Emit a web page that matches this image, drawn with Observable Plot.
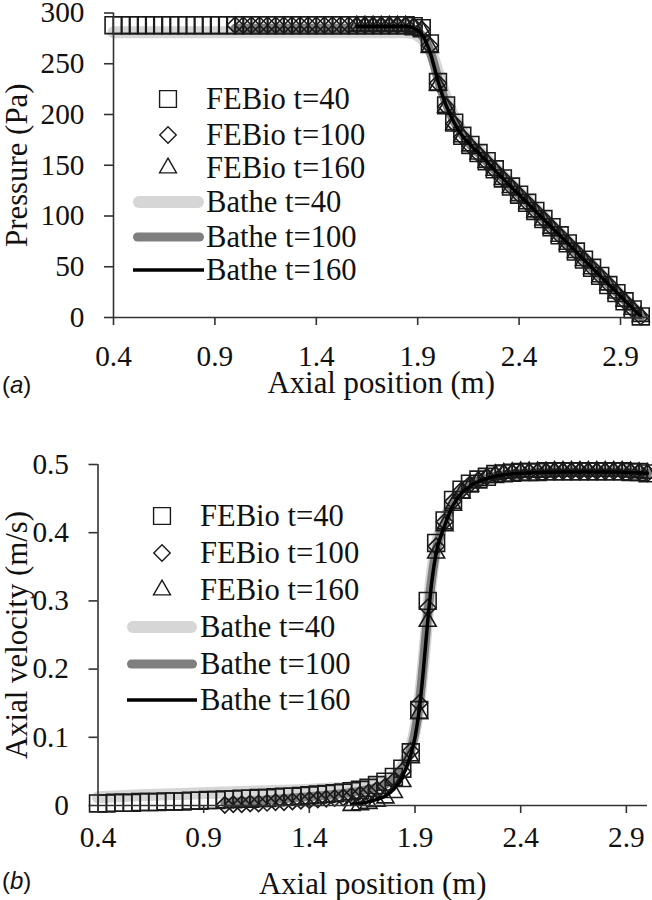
<!DOCTYPE html>
<html><head><meta charset="utf-8">
<script src="https://cdn.jsdelivr.net/npm/d3@7"></script>
<script src="https://cdn.jsdelivr.net/npm/@observablehq/plot@0.6"></script>
<style>
html,body{margin:0;padding:0;background:#fff;}
#wrap{position:relative;width:652px;height:900px;overflow:hidden;}
#wrap > svg{display:block;}
#overlay{position:absolute;left:0;top:0;pointer-events:none;}
#wrap svg text, #wrap svg tspan{font-family:"Liberation Serif","Times New Roman",serif;}
#wrap svg text.tag, #wrap svg text.tag tspan{font-family:"Liberation Sans",Arial,sans-serif;}
</style></head><body><div id="wrap"></div>
<script>
// ---------- data ----------
const xGrid = [0.40,0.44,0.48,0.52,0.56,0.60,0.64,0.68,0.72,0.76,0.80,0.84,0.88,0.92,0.96,1.00,1.04,1.08,1.12,1.16,1.20,1.24,1.28,1.32,1.36,1.40,1.44,1.48,1.52,1.56,1.60,1.64,1.68,1.72,1.76,1.80,1.84,1.88,1.92,1.96,2.00,2.04,2.08,2.12,2.16,2.20,2.24,2.28,2.32,2.36,2.40,2.44,2.48,2.52,2.56,2.60,2.64,2.68,2.72,2.76,2.80,2.84,2.88,2.92,2.96,3.00];

// Pressure, FEBio (markers)
const pFeb40 = [288,288,288,288,288,288,288,288,288,288,
  288,288,288,288,288,288,288,288,288,288,
  288,288,288,288,288,288,288,288,288,288,
  288,288,288,288,288,288,288,
  287,285,270,232,209,192,179,170,162,154,146,137,129,121,113,105,97,89,81,73,65,57,49,41,32,24,16,8,1];
const pFeb100 = [288,288,288,288,288,288,288,288,288,288,288,288,288,288,288,
  288,288,288,288,288,288,288,
  287,284,268,231,208,191,178,169,161,153,145,137,129,121,113,105,97,89,81,73,65,57,49,41,33,24,16,8,1];
const pFeb160 = [287,287,287,287,287,287,287,
  286,283,266,229,207,190,178,169,161,153,145,136,128,120,112,104,96,88,80,72,64,56,48,40,32,24,16,8,1];

// Velocity, FEBio (markers)
const vFeb40 = [.003,.003,.004,.004,.004,.005,.005,.005,.006,.006,
  .006,.007,.007,.008,.008,.009,.009,.010,.010,.011,
  .011,.012,.013,.013,.014,.015,.016,.017,.018,.019,
  .021,.023,.026,.030,.035,.042,.054,
  .078,.14,.30,.385,.418,.448,.463,.472,.478,.482,
  .486,.487,.488,.489,.489,.489,.490,.490,.490,.490,
  .490,.490,.490,.490,.490,.490,.489,.489,.487];
const vFeb100 = [.001,.002,.002,.003,.003,.004,.005,.005,.006,.007,.008,.009,.010,.011,.012,
  .014,.016,.019,.023,.028,.036,.050,
  .080,.15,.29,.38,.416,.446,.462,.471,.477,.482,.485,.487,.488,.489,.489,.489,.490,.490,.490,.490,.490,.490,.490,.490,.490,.490,.489,.489,.487];
const vFeb160 = [.000,.001,.003,.006,.011,.019,.035,
  .070,.135,.27,.37,.41,.44,.458,.468,.476,.481,.485,.487,.488,.489,.489,.489,.489,.490,.490,.490,.490,.490,.490,.490,.490,.490,.489,.488,.487];

// Bathe (lines)
const bX40 = [0.4,0.6,0.8,1.0,1.2,1.4,1.6,1.7,1.76,1.8,1.84,1.88,1.9,1.92,1.94,1.96,1.98,2.0,2.04,2.08,2.12,2.16,2.2,2.3,2.4,2.6,2.8,3.0];
const pBathe40 = [281,281,281,281,281,281,281,281,281,281,281,280,278,275,270,264,254,241,216,197,183,173,165,144,124,83,43,2];
const vBathe40 = [.012,.015,.017,.019,.021,.023,.027,.031,.036,.044,.057,.085,.11,.15,.21,.28,.34,.38,.418,.446,.462,.471,.477,.485,.488,.490,.490,.488];
const bX100 = [1.0,1.2,1.4,1.6,1.7,1.76,1.8,1.84,1.88,1.9,1.92,1.94,1.96,1.98,2.0,2.04,2.08,2.12,2.16,2.2,2.3,2.4,2.6,2.8,3.0];
const pBathe100 = [285,285,285,285,285,285,285,285,284,282,278,272,263,250,235,211,193,180,170,162,141,121,81,41,1];
const vBathe100 = [.004,.008,.013,.019,.025,.031,.039,.053,.082,.107,.148,.21,.28,.335,.375,.414,.444,.46,.47,.476,.484,.487,.489,.489,.487];
const bX160 = [1.6,1.66,1.72,1.76,1.8,1.84,1.88,1.9,1.92,1.94,1.96,1.98,2.0,2.04,2.08,2.12,2.16,2.2,2.3,2.4,2.6,2.8,3.0];
const pBathe160 = [287,287,287,287,287,287,285,283,279,272,262,248,233,209,192,179,170,162,141,121,81,41,1];
const vBathe160 = [.002,.004,.009,.014,.024,.042,.075,.10,.14,.20,.27,.33,.37,.41,.44,.458,.468,.475,.484,.487,.489,.489,.487];

// ticks and labels
const xTicks = [0.4,0.9,1.4,1.9,2.4,2.9];
const xTickLabels = ["0.4","0.9","1.4","1.9","2.4","2.9"];
const pTicks = [0,50,100,150,200,250,300];
const pTickLabels = ["0","50","100","150","200","250","300"];
const vTicks = [0,0.1,0.2,0.3,0.4,0.5];
const vTickLabels = ["0","0.1","0.2","0.3","0.4","0.5"];
const legendLabels = ["FEBio t=40","FEBio t=100","FEBio t=160","Bathe t=40","Bathe t=100","Bathe t=160"];

// ---------- styles ----------
const serif = `"Liberation Serif","Times New Roman",serif`;
const tickFont = 29.3, titleSize = 30.8, legendSize = 30.6;
const markerStyle = {stroke: "#1a1a1a", strokeWidth: 1.6, fill: "none"};
const symbolsR = {square: 9.5, diamond2: 7.4, triangle: 6.3};
const lineStyles = [
  {stroke: "#d6d6d6", strokeWidth: 12},
  {stroke: "#7f7f7f", strokeWidth: 9},
  {stroke: "#000000", strokeWidth: 3.5}
];

const fromGrid = arr => arr.map((y, i) => ({x: xGrid[xGrid.length - arr.length + i], y}));
const fromXY = (xs, ys) => ys.map((y, i) => ({x: xs[i], y}));

function panel(o) {
  const xMap = new Map(xTicks.map((t, i) => [t, xTickLabels[i]]));
  const yMap = new Map(o.yTicks.map((t, i) => [t, o.yTickLabels[i]]));
  return Plot.plot({
    width: 652, height: o.height,
    marginTop: o.marginTop, marginBottom: o.marginBottom, marginLeft: o.marginLeft, marginRight: o.marginRight,
    x: {domain: o.xDomain},
    y: {domain: o.yDomain},
    style: {fontFamily: serif, fontSize: `${tickFont}px`, color: "#222", background: "transparent", overflow: "visible"},
    marks: [
      Plot.line(o.bathe[0], {x: "x", y: "y", ...lineStyles[0], strokeLinecap: "round", curve: "monotone-x"}),
      Plot.line(o.bathe[1], {x: "x", y: "y", ...lineStyles[1], strokeLinecap: "round", curve: "monotone-x"}),
      Plot.dot(o.feb[0], {x: "x", y: "y", symbol: "square", r: symbolsR.square, ...markerStyle}),
      Plot.dot(o.feb[1], {x: "x", y: "y", symbol: "diamond2", r: symbolsR.diamond2, ...markerStyle}),
      Plot.dot(o.feb[2], {x: "x", y: "y", symbol: "triangle", r: symbolsR.triangle, ...markerStyle}),
      Plot.line(o.bathe[2], {x: "x", y: "y", ...lineStyles[2], curve: "monotone-x"}),
      Plot.ruleY([o.yDomain[0]], {stroke: "#333", strokeWidth: 1.6}),
      Plot.ruleX([o.xDomain[0]], {stroke: "#333", strokeWidth: 1.6}),
      Plot.axisX({ticks: xTicks, tickFormat: d => xMap.get(d), tickSize: 8, tickPadding: o.xTickPadding,
        stroke: "#333", strokeWidth: 1.6, fill: "#111", label: null}),
      Plot.axisX({ticks: [], label: "Axial position (m)", labelAnchor: "center", labelOffset: o.xLabelOffset,
        labelArrow: "none", fontSize: titleSize, fill: "#111"}),
      Plot.axisY({ticks: o.yTicks, tickFormat: d => yMap.get(d), tickSize: 9, tickPadding: 20,
        stroke: "#333", strokeWidth: 1.6, fill: "#111", label: null}),
      Plot.axisY({ticks: [], label: o.yLabel, labelAnchor: "center", labelOffset: o.yLabelOffset,
        labelArrow: "none", fontSize: titleSize, fill: "#111"})
    ]
  });
}

const wrap = document.getElementById("wrap");
const chartA = panel({
  height: 410, marginTop: 12.5, marginBottom: 93, marginLeft: 113, marginRight: 3.6,
  xDomain: [0.4, 3.04], yDomain: [0, 300], yTicks: pTicks, yTickLabels: pTickLabels,
  yLabel: "Pressure (Pa)", yLabelOffset: 108, xLabelOffset: 75, xTickPadding: 20,
  feb: [fromGrid(pFeb40), fromGrid(pFeb100), fromGrid(pFeb160)],
  bathe: [fromXY(bX40, pBathe40), fromXY(bX100, pBathe100), fromXY(bX160, pBathe160)]
});
const chartB = panel({
  height: 490, marginTop: 54, marginBottom: 95, marginLeft: 97.5, marginRight: 5,
  xDomain: [0.4, 3.0], yDomain: [0, 0.5], yTicks: vTicks, yTickLabels: vTickLabels,
  yLabel: "Axial velocity (m/s)", yLabelOffset: 93, xLabelOffset: 88, xTickPadding: 13,
  feb: [fromGrid(vFeb40), fromGrid(vFeb100), fromGrid(vFeb160)],
  bathe: [fromXY(bX40, vBathe40), fromXY(bX100, vBathe100), fromXY(bX160, vBathe160)]
});
wrap.appendChild(chartA);
wrap.appendChild(chartB);

// ---------- legends and panel tags (overlay) ----------
const legendLayouts = [
  {rows: [99,135,168,202,237,270], markerX: 168, lineX1: 133, lineX2: 204, textX: 206},
  {rows: [516,553,590,627,664,700], markerX: 162, lineX1: 127, lineX2: 197, textX: 200}
];
const legendSymbols = [["square", d3.symbolSquare], ["diamond2", d3.symbolDiamond2], ["triangle", d3.symbolTriangle]];
const svg = d3.select(wrap).append("svg").attr("id", "overlay").attr("width", 652).attr("height", 900);
legendLayouts.forEach(L => {
  legendLabels.forEach((lab, i) => {
    const cy = L.rows[i];
    if (i < 3) {
      const [name, sym] = legendSymbols[i];
      const r = symbolsR[name];
      svg.append("path").attr("d", d3.symbol(sym, Math.PI * r * r)())
        .attr("transform", `translate(${L.markerX},${cy})`)
        .attr("fill", "none").attr("stroke", markerStyle.stroke).attr("stroke-width", 1.4);
    } else {
      const s = lineStyles[i - 3];
      const rounded = i - 3 < 2;
      const cap = rounded ? s.strokeWidth / 2 : 0;
      svg.append("line").attr("x1", L.lineX1 + cap).attr("x2", L.lineX2 - cap).attr("y1", cy).attr("y2", cy)
        .attr("stroke", s.stroke).attr("stroke-width", s.strokeWidth).attr("stroke-linecap", rounded ? "round" : "butt");
    }
    svg.append("text").attr("x", L.textX).attr("y", cy + 0.33 * legendSize)
      .attr("font-size", legendSize).attr("fill", "#111").text(lab);
  });
});
[["a", 393], ["b", 889]].forEach(([t, y]) => {
  const tx = svg.append("text").attr("class", "tag").attr("x", 2).attr("y", y)
    .attr("font-size", 24).attr("fill", "#111");
  tx.append("tspan").text("(");
  tx.append("tspan").attr("font-style", "italic").text(t);
  tx.append("tspan").text(")");
});
</script></body></html>
